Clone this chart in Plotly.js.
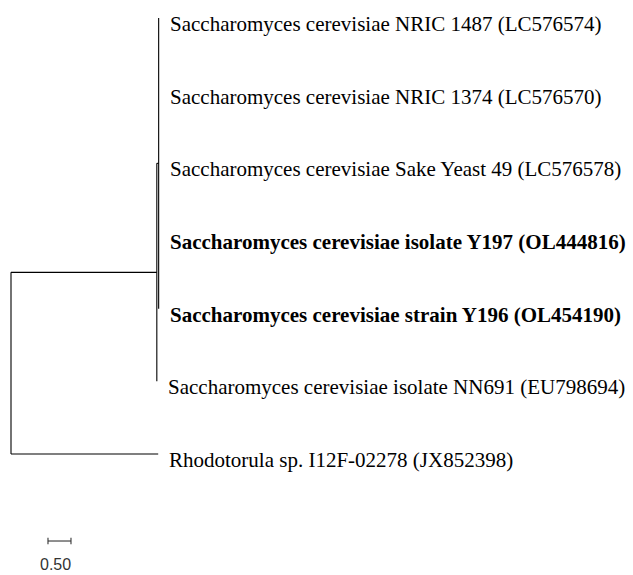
<!DOCTYPE html>
<html><head><meta charset="utf-8">
<script src="https://cdn.plot.ly/plotly-3.0.1.min.js"></script>
<style>html,body{margin:0;padding:0;background:#fff}</style>
</head><body><div id="chart" style="width:633px;height:575px"></div>
<script>
// Leaf taxa (top to bottom)
const leafNames = [
  "Saccharomyces cerevisiae NRIC 1487 (LC576574)",
  "Saccharomyces cerevisiae NRIC 1374 (LC576570)",
  "Saccharomyces cerevisiae Sake Yeast 49 (LC576578)",
  "Saccharomyces cerevisiae isolate Y197 (OL444816)",
  "Saccharomyces cerevisiae strain Y196 (OL454190)",
  "Saccharomyces cerevisiae isolate NN691 (EU798694)",
  "Rhodotorula sp. I12F-02278 (JX852398)"
];
const leafBold = [false, false, false, true, true, false, false];
// Tree topology (nodes and children) with branch lengths
const nodeNames   = ["root", "A", "B"];
const nodeParent  = [null, "root", "A"];
const nodeBranch  = [0, 3.17, 0.04];
const leafParent  = ["B", "B", "B", "B", "B", "A", "root"];
const leafBranch  = [0.0, 0.0, 0.0, 0.0, 0.0, 0.0, 3.2];
const scaleValue = 0.50;
const scaleLabel = "0.50";

// compute node depths
const depth = {};
nodeNames.forEach((n, i) => {
  depth[n] = (nodeParent[i] === null ? 0 : depth[nodeParent[i]]) + nodeBranch[i];
});
const leafX = leafNames.map((_, i) => depth[leafParent[i]] + leafBranch[i]);
const leafY = leafNames.map((_, i) => i);
// node y = midpoint of first/last children
const nodeY = {};
const childrenY = n => {
  const ys = [];
  leafParent.forEach((p, i) => { if (p === n) ys.push(leafY[i]); });
  nodeParent.forEach((p, i) => { if (p === n) ys.push(getY(nodeNames[i])); });
  return ys;
};
function getY(n) {
  if (nodeY[n] !== undefined) return nodeY[n];
  const ys = childrenY(n);
  nodeY[n] = (Math.min(...ys) + Math.max(...ys)) / 2;
  return nodeY[n];
}
nodeNames.forEach(getY);

const lx = [], ly = [];
// horizontal branches
leafNames.forEach((_, i) => {
  lx.push(depth[leafParent[i]], leafX[i], null);
  ly.push(leafY[i], leafY[i], null);
});
nodeNames.forEach((n, i) => {
  if (nodeParent[i] !== null) {
    lx.push(depth[nodeParent[i]], depth[n], null);
    ly.push(nodeY[n], nodeY[n], null);
  }
  const ys = childrenY(n);
  lx.push(depth[n], depth[n], null);
  ly.push(Math.min(...ys), Math.max(...ys), null);
});

const treeTrace = {x: lx, y: ly, mode: "lines", type: "scatter",
  line: {color: "#000", width: 1.1}, hoverinfo: "skip", showlegend: false};

const sbX0 = 0.804, sbY = 7.197;
const scaleTrace = {
  x: [sbX0, sbX0 + scaleValue, null, sbX0, sbX0, null, sbX0 + scaleValue, sbX0 + scaleValue],
  y: [sbY, sbY, null, sbY - 0.045, sbY + 0.045, null, sbY - 0.045, sbY + 0.045],
  mode: "lines", type: "scatter", line: {color: "#333", width: 1.1},
  hoverinfo: "skip", showlegend: false
};

const annotations = leafNames.map((name, i) => ({
  x: leafX[i], y: leafY[i], xref: "x", yref: "y",
  text: leafBold[i] ? "<b>" + name + "</b>" : name,
  showarrow: false, xanchor: "left", yanchor: "middle",
  xshift: 9, yshift: -6,
  font: {family: "Liberation Serif, Times New Roman, serif", size: 21, color: "#000"}
}));
annotations.push({
  x: sbX0 + scaleValue / 2, y: sbY, xref: "x", yref: "y", text: scaleLabel,
  showarrow: false, xanchor: "center", yanchor: "middle", yshift: -23, xshift: -4,
  borderpad: 0,
  font: {family: "Liberation Sans, Arial, sans-serif", size: 16, color: "#333"}
});

const layout = {
  width: 633, height: 575,
  margin: {l: 0, r: 0, t: 0, b: 0},
  paper_bgcolor: "#fff", plot_bgcolor: "#fff",
  xaxis: {range: [-11 / 46, 622 / 46], visible: false, fixedrange: true},
  yaxis: {range: [(575 - 18) / 72.67, -18 / 72.67], visible: false, fixedrange: true},
  annotations: annotations,
  showlegend: false
};
Plotly.newPlot("chart", [treeTrace, scaleTrace], layout, {displayModeBar: false, staticPlot: true});
</script></body></html>
